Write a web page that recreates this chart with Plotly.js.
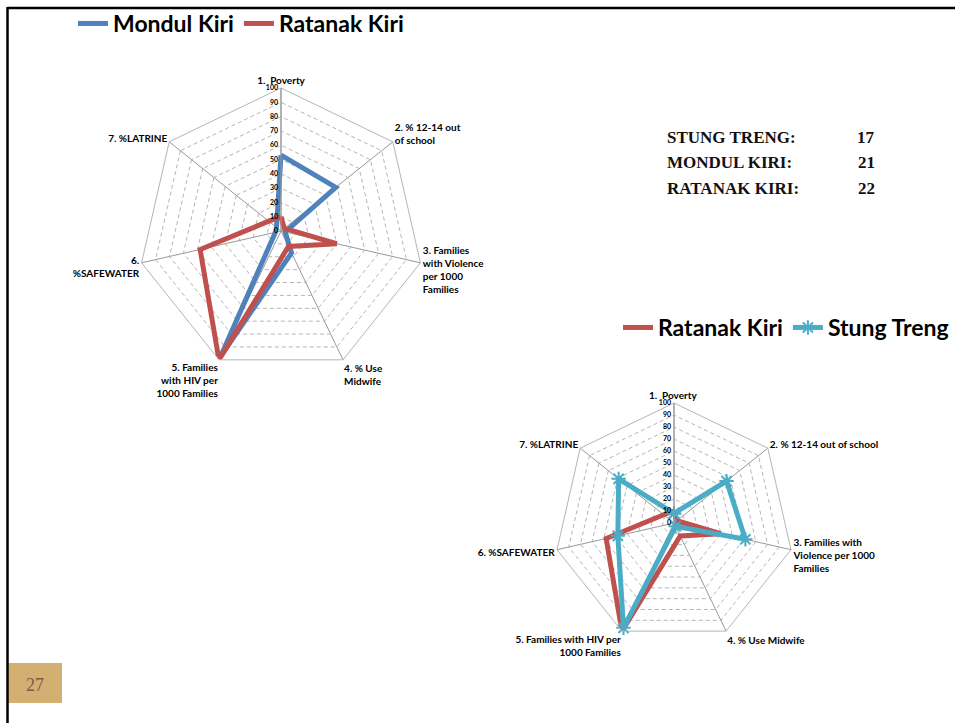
<!DOCTYPE html>
<html>
<head>
<meta charset="utf-8">
<script src="https://cdn.plot.ly/plotly-3.0.1.min.js"></script>
<style>html,body{margin:0;padding:0;background:#fff;}#chart{width:955px;height:723px;}</style>
</head>
<body>
<div id="chart"></div>
<script>
// ---- data ----
var categories1 = ["1.  Poverty", "2. % 12-14 out<br>of school", "3. Families<br>with Violence<br>per 1000<br>Families", "4. % Use<br>Midwife", "5. Families<br>with HIV per<br>1000 Families", "6.<br>%SAFEWATER", "7. %LATRINE"];
var categories2 = ["1.  Poverty ", "2. % 12-14 out of school", "3. Families with<br>Violence per 1000<br>Families", "4. % Use Midwife", "5. Families with HIV per<br>1000 Families", "6. %SAFEWATER", "7. %LATRINE"];
var mondulKiri  = [53, 49, 3, 17, 97, 4, 4];
var ratanakKiri = [10, 3, 40, 12, 100, 58, 11];
var stungTreng  = [8, 56, 61, 3, 97, 48, 59];
var regionNames  = ["STUNG TRENG:", "MONDUL KIRI:", "RATANAK KIRI:"];
var regionCounts = ["17", "21", "22"];
var radialTicks = [0, 10, 20, 30, 40, 50, 60, 70, 80, 90, 100];
var pageNumber = "27";

var BLUE = "#4F81BD", RED = "#C0504D", CYAN = "#4BACC6";
function closeLoop(a){ return a.concat([a[0]]); }

var traces = [
  {type:"scatterpolar", subplot:"polar", legend:"legend", name:"Mondul Kiri",
   r: closeLoop(mondulKiri), theta: closeLoop(categories1), mode:"lines",
   line:{color:BLUE, width:5}},
  {type:"scatterpolar", subplot:"polar", legend:"legend", name:"Ratanak Kiri",
   r: closeLoop(ratanakKiri), theta: closeLoop(categories1), mode:"lines",
   line:{color:RED, width:5}},
  {type:"scatterpolar", subplot:"polar2", legend:"legend2", name:"Ratanak Kiri",
   r: closeLoop(ratanakKiri), theta: closeLoop(categories2), mode:"lines",
   line:{color:RED, width:5}},
  {type:"scatterpolar", subplot:"polar2", legend:"legend2", name:"Stung Treng",
   r: closeLoop(stungTreng), theta: closeLoop(categories2), mode:"lines+markers",
   line:{color:CYAN, width:5},
   marker:{symbol:"asterisk-open", size:12, color:CYAN, line:{color:CYAN, width:2}}}
];

function polarCfg(domX, domY, cats){
  return {
    domain:{x:domX, y:domY},
    gridshape:"linear",
    bgcolor:"rgba(0,0,0,0)",
    radialaxis:{range:[0,100], tickvals:radialTicks, ticktext:radialTicks.map(String),
      angle:90, side:"counterclockwise", tickangle:90, showline:true, linecolor:"#999", linewidth:1,
      gridcolor:"#b5b5b5", griddash:"4px,3px", gridwidth:1, ticks:"",
      tickfont:{family:"Lato", size:7, color:"#000", weight:"bold"}},
    angularaxis:{direction:"clockwise", rotation:90, categoryorder:"array", categoryarray:cats,
      linecolor:"#b5b5b5", linewidth:1, gridcolor:"#999", ticks:"",
      tickfont:{family:"Lato", size:10, color:"#000", weight:"bold"}}
  };
}

var annotations = [];
for (var i = 0; i < regionNames.length; i++){
  annotations.push({xref:"paper", yref:"paper", x:665/955, y:1-(137+i*26)/723, xanchor:"left", yanchor:"middle",
    text:"<b>"+regionNames[i]+"</b>", showarrow:false, font:{family:"Liberation Serif", size:17, color:"#111"}});
  annotations.push({xref:"paper", yref:"paper", x:877/955, y:1-(137+i*26)/723, xanchor:"right", yanchor:"middle",
    text:"<b>"+regionCounts[i]+"</b>", showarrow:false, font:{family:"Liberation Serif", size:17, color:"#111"}});
}
annotations.push({xref:"paper", yref:"paper", x:35/955, y:1-685/723, xanchor:"center", yanchor:"middle",
  text:pageNumber, showarrow:false, font:{family:"Liberation Serif", size:18, color:"#7a5c4a"}});

var layout = {
  width:955, height:723,
  margin:{l:0, r:0, t:0, b:0},
  paper_bgcolor:"#fff",
  showlegend:true,
  polar: polarCfg([138/955, 424/955], [(492-143)/723, (492+143)/723], categories1),
  polar2: polarCfg([554/955, 794/955], [80/723, 320/723], categories2),
  legend:{orientation:"h", x:73/955, y:1-2/723, xanchor:"left", yanchor:"top", bgcolor:"rgba(0,0,0,0)",
    font:{family:"Lato", size:23, color:"#000", weight:"bold"}, itemwidth:30, tracegroupgap:0},
  legend2:{orientation:"h", x:618/955, y:1-306/723, xanchor:"left", yanchor:"top", bgcolor:"rgba(0,0,0,0)",
    font:{family:"Lato", size:23, color:"#000", weight:"bold"}, itemwidth:30},
  annotations: annotations,
  shapes:[
    {type:"line", xref:"paper", yref:"paper", x0:7/955, x1:1, y0:1-8/723, y1:1-8/723, line:{color:"#000", width:2.5}},
    {type:"line", xref:"paper", yref:"paper", x0:7.5/955, x1:7.5/955, y0:0, y1:1-7/723, line:{color:"#000", width:2.5}},
    {type:"rect", xref:"paper", yref:"paper", x0:8/955, x1:62/955, y0:1-703/723, y1:1-663/723, fillcolor:"#D3B072", line:{width:0}, layer:"below"}
  ]
};

Plotly.newPlot("chart", traces, layout, {displayModeBar:false, staticPlot:true});
</script>
</body>
</html>
